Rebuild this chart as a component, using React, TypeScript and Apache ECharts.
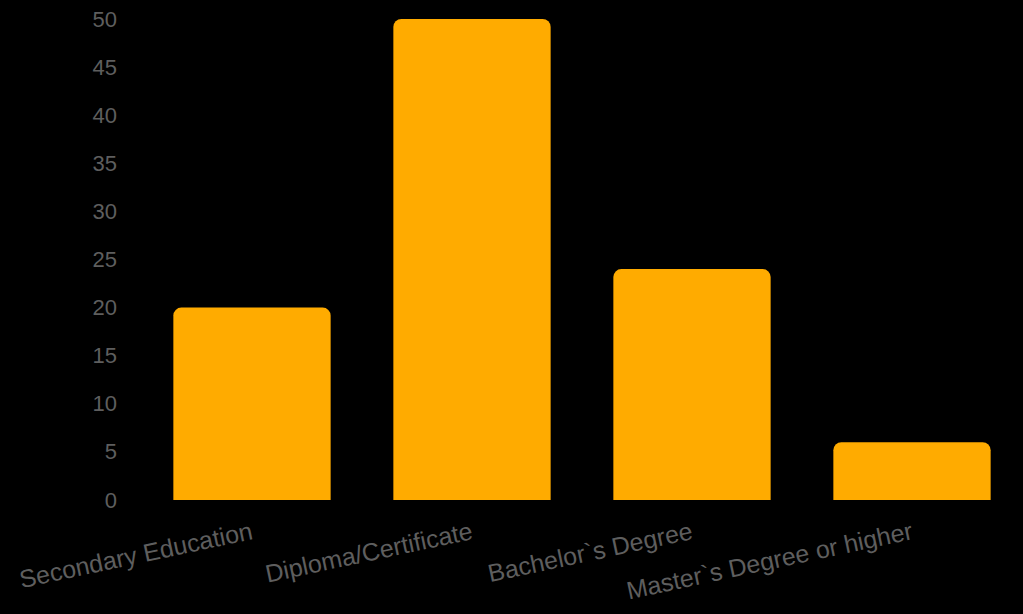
import React, { useEffect, useRef } from "react";
import * as echarts from "echarts";

const categories = [
  "Secondary Education",
  "Diploma/Certificate",
  "Bachelor`s Degree",
  "Master`s Degree or higher",
];
const values = [20, 50, 24, 6];
const yMin = 0;
const yMax = 50;
const yStep = 5;

export default function App() {
  const ref = useRef<HTMLDivElement>(null);
  useEffect(() => {
    if (!ref.current) return;
    const chart = echarts.init(ref.current, undefined, { renderer: "svg" });
    chart.setOption({
      animation: false,
      backgroundColor: "#000000",
      grid: { left: 142, right: 1, top: 19, bottom: 114, containLabel: false },
      xAxis: {
        type: "category",
        data: categories,
        axisLine: { show: false },
        axisTick: { show: false },
        axisLabel: {
          color: "#5e5e5e",
          fontSize: 25,
          fontFamily: "Liberation Sans, Arial, sans-serif",
          rotate: 12,
          margin: 30,
          interval: 0,
        },
      },
      yAxis: {
        type: "value",
        min: yMin,
        max: yMax,
        interval: yStep,
        splitLine: { show: false },
        axisLine: { show: false },
        axisTick: { show: false },
        axisLabel: {
          color: "#5e5e5e",
          fontSize: 22,
          fontFamily: "Liberation Sans, Arial, sans-serif",
          margin: 25,
        },
      },
      series: [
        {
          type: "bar",
          data: values,
          barWidth: "71.5%",
          itemStyle: { color: "#ffab00", borderRadius: [8, 8, 0, 0] },
        },
      ],
    });
    return () => chart.dispose();
  }, []);
  return (
    <div
      ref={ref}
      style={{ position: "fixed", left: 0, top: 0, width: 1023, height: 614, background: "#000" }}
    />
  );
}
